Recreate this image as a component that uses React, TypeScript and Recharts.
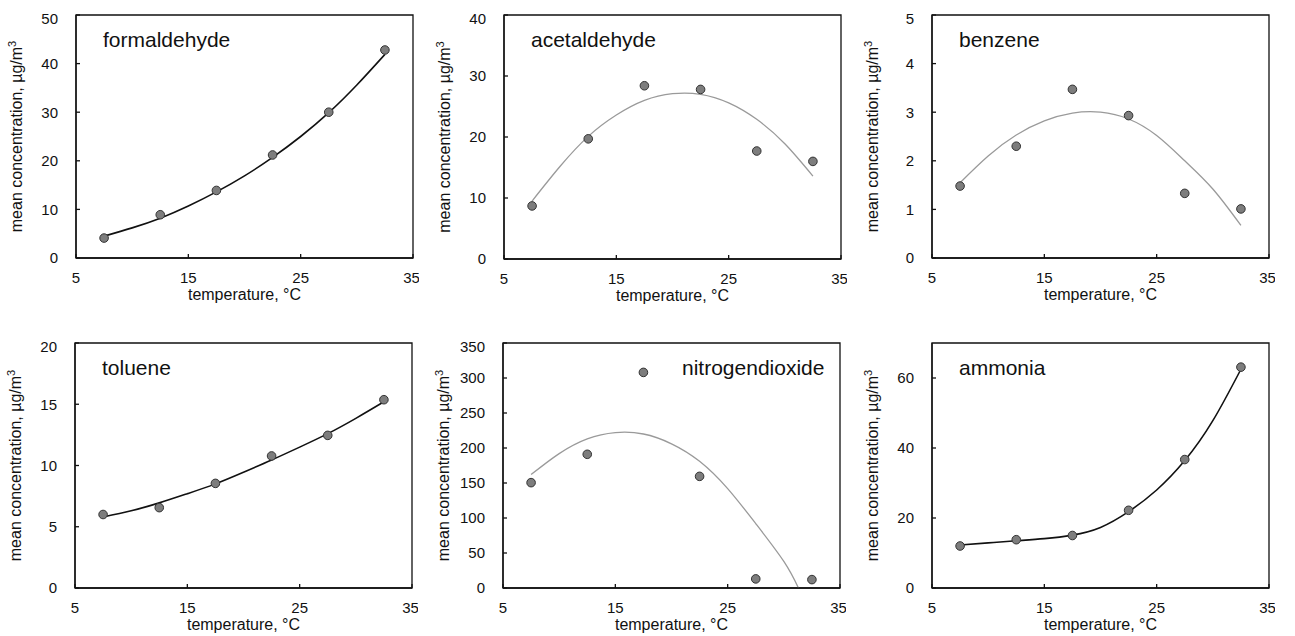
import React from 'react';
import {
  ComposedChart,
  Line,
  ReferenceArea,
  Scatter,
  XAxis,
  YAxis,
} from 'recharts';

// measured temperature classes (bin midpoints, °C)
const TEMPS = [7.5, 12.5, 17.5, 22.5, 27.5, 32.5];
// temperatures at which the fitted curves are sampled
const FIT_TEMPS = [7.5, 10, 12.5, 15, 17.5, 20, 22.5, 25, 27.5, 30, 32.5];
const NO2_FIT_TEMPS = [7.5, 10, 12.5, 15, 17.5, 20, 22.5, 25, 27.5, 30, 31.3];

const X_TICKS = [5, 15, 25, 35];

const formaldehydeObs = [4.1, 8.9, 13.9, 21.2, 30.0, 42.8];
const formaldehydeFit = [4.5, 6.2, 8.2, 10.7, 13.6, 16.9, 20.7, 25.0, 29.9, 35.6, 41.9];

const acetaldehydeObs = [8.7, 19.7, 28.4, 27.8, 17.7, 16.0];
const acetaldehydeFit = [9.5, 15.2, 20.1, 23.6, 26.0, 27.1, 27.0, 25.6, 22.9, 18.9, 13.6];

const benzeneObs = [1.48, 2.3, 3.47, 2.93, 1.33, 1.01];
const benzeneFit = [1.55, 2.1, 2.53, 2.82, 2.98, 3.0, 2.86, 2.52, 2.0, 1.42, 0.67];

const tolueneObs = [6.0, 6.56, 8.54, 10.78, 12.46, 15.37];
const tolueneFit = [5.8, 6.3, 6.95, 7.7, 8.5, 9.45, 10.45, 11.5, 12.6, 13.85, 15.2];

const no2Obs = [150.5, 191, 308, 159.5, 13, 12];
const no2Fit = [162, 192, 213, 222, 220, 206, 181, 142, 92, 38, 0];

const ammoniaObs = [12.0, 13.8, 15.0, 22.2, 36.7, 63.1];
const ammoniaFit = [12.3, 12.9, 13.5, 14.1, 15.1, 17.3, 21.8, 28.0, 36.4, 47.8, 62.5];

const FONT = '"Liberation Sans", Arial, sans-serif';
const INK = '#111';
const Y_AXIS_W = 72;
const X_AXIS_H = 45;
const PLOT_W = 337;
const TOP_PAD = 5;

const zip = (xs: number[], ys: number[]) => xs.map((t, i) => ({ t, v: ys[i] }));

type Panel = {
  name: string;
  left: number;
  top: number;
  h: number;
  yMax: number;
  yTicks: number[];
  obs: number[];
  fit: number[];
  fitTemps: number[];
  fitColor: string;
  fitWidth: number;
  titleDx: number;
};

const panels: Panel[] = [
  { name: 'formaldehyde', left: 76, top: 15, h: 243, yMax: 50, yTicks: [0, 10, 20, 30, 40, 50], obs: formaldehydeObs, fit: formaldehydeFit, fitTemps: FIT_TEMPS, fitColor: '#111', fitWidth: 1.6, titleDx: 27 },
  { name: 'acetaldehyde', left: 504, top: 15, h: 244, yMax: 40, yTicks: [0, 10, 20, 30, 40], obs: acetaldehydeObs, fit: acetaldehydeFit, fitTemps: FIT_TEMPS, fitColor: '#9a9a9a', fitWidth: 1.3, titleDx: 27 },
  { name: 'benzene', left: 932, top: 15, h: 243, yMax: 5, yTicks: [0, 1, 2, 3, 4, 5], obs: benzeneObs, fit: benzeneFit, fitTemps: FIT_TEMPS, fitColor: '#9a9a9a', fitWidth: 1.3, titleDx: 27 },
  { name: 'toluene', left: 75, top: 343, h: 245, yMax: 20, yTicks: [0, 5, 10, 15, 20], obs: tolueneObs, fit: tolueneFit, fitTemps: FIT_TEMPS, fitColor: '#111', fitWidth: 1.6, titleDx: 27 },
  { name: 'nitrogendioxide', left: 503, top: 343, h: 245, yMax: 350, yTicks: [0, 50, 100, 150, 200, 250, 300, 350], obs: no2Obs, fit: no2Fit, fitTemps: NO2_FIT_TEMPS, fitColor: '#9a9a9a', fitWidth: 1.3, titleDx: 179 },
  { name: 'ammonia', left: 932, top: 343, h: 245, yMax: 70, yTicks: [0, 20, 40, 60], obs: ammoniaObs, fit: ammoniaFit, fitTemps: FIT_TEMPS, fitColor: '#111', fitWidth: 1.6, titleDx: 27 },
];

const Dot = (props: any) => {
  const { cx, cy } = props;
  if (cx == null || cy == null) return null;
  return <circle cx={cx} cy={cy} r={4.3} fill="#7d7d7d" stroke="#333" strokeWidth={1} />;
};

const XTitle = (props: any) => {
  const vb = props.viewBox || {};
  return (
    <text x={vb.x + vb.width / 2} y={vb.y + 42} textAnchor="middle" fontSize={16} fontFamily={FONT} fill={INK}>
      temperature, °C
    </text>
  );
};

const YTitle = (props: any) => {
  const vb = props.viewBox || {};
  const x = vb.x + 18;
  const y = vb.y + vb.height / 2;
  return (
    <text x={x} y={y} textAnchor="middle" fontSize={16} fontFamily={FONT} fill={INK} transform={`rotate(-90, ${x}, ${y})`}>
      <tspan>mean concentration, µg/m</tspan>
      <tspan dy={-6} fontSize={11}>3</tspan>
    </text>
  );
};

function PanelChart({ p }: { p: Panel }) {
  const obs = zip(TEMPS, p.obs);
  const fit = zip(p.fitTemps, p.fit);
  return (
    <div style={{ position: 'absolute', left: p.left - Y_AXIS_W, top: p.top - TOP_PAD }}>
      <ComposedChart
        width={Y_AXIS_W + PLOT_W + 6}
        height={TOP_PAD + p.h + X_AXIS_H}
        margin={{ top: TOP_PAD, right: 6, bottom: 0, left: 0 }}
      >
        <XAxis
          type="number"
          dataKey="t"
          domain={[5, 35]}
          ticks={X_TICKS}
          height={X_AXIS_H}
          tickSize={-4}
          tickMargin={18}
          stroke={INK}
          strokeWidth={1.3}
          tick={{ fill: INK, fontSize: 15, fontFamily: FONT }}
          allowDataOverflow
          label={(props: any) => <XTitle {...props} />}
        />
        <YAxis
          type="number"
          dataKey="v"
          domain={[0, p.yMax]}
          ticks={p.yTicks}
          width={Y_AXIS_W}
          tickSize={-4}
          tickMargin={22}
          stroke={INK}
          strokeWidth={1.3}
          tick={{ fill: INK, fontSize: 15, fontFamily: FONT }}
          allowDataOverflow
          label={(props: any) => <YTitle {...props} />}
        />
        <ReferenceArea x1={5} x2={35} y1={0} y2={p.yMax} fill="none" stroke={INK} strokeWidth={1.3} ifOverflow="visible" />
        <Line
          data={fit}
          dataKey="v"
          type="natural"
          stroke={p.fitColor}
          strokeWidth={p.fitWidth}
          dot={false}
          activeDot={false}
          isAnimationActive={false}
        />
        <Scatter data={obs} dataKey="v" shape={Dot} isAnimationActive={false} />
      </ComposedChart>
      <div
        style={{
          position: 'absolute',
          left: Y_AXIS_W + p.titleDx,
          top: TOP_PAD + 32 - 18,
          fontFamily: FONT,
          fontSize: 21,
          lineHeight: '21px',
          color: INK,
          whiteSpace: 'nowrap',
        }}
      >
        {p.name}
      </div>
    </div>
  );
}

export default function App() {
  return (
    <div style={{ position: 'absolute', left: 0, top: 0, width: 1295, height: 636, background: '#fff', overflow: 'hidden' }}>
      {panels.map((p) => (
        <PanelChart key={p.name} p={p} />
      ))}
    </div>
  );
}
